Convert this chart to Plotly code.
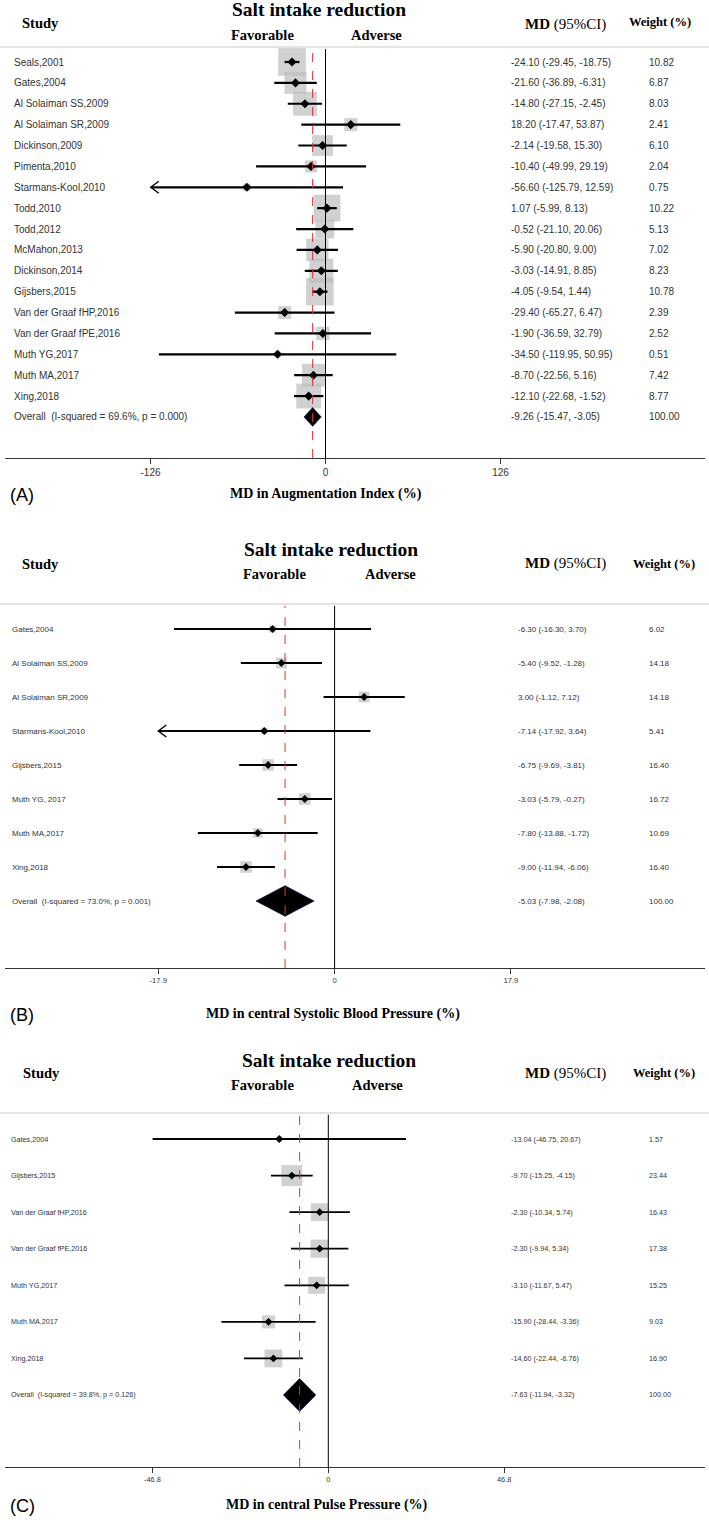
import numpy as np
import plotly.graph_objects as go

# ---------------- Data ----------------
# Panel A: Augmentation Index
a_studies = ["Seals,2001", "Gates,2004", "Al Solaiman SS,2009", "Al Solaiman SR,2009",
             "Dickinson,2009", "Pimenta,2010", "Starmans-Kool,2010", "Todd,2010",
             "Todd,2012", "McMahon,2013", "Dickinson,2014", "Gijsbers,2015",
             "Van der Graaf fHP,2016", "Van der Graaf fPE,2016", "Muth YG,2017",
             "Muth MA,2017", "Xing,2018"]
a_md = [-24.10, -21.60, -14.80, 18.20, -2.14, -10.40, -56.60, 1.07, -0.52, -5.90,
        -3.03, -4.05, -29.40, -1.90, -34.50, -8.70, -12.10]
a_lo = [-29.45, -36.89, -27.15, -17.47, -19.58, -49.99, -125.79, -5.99, -21.10,
        -20.80, -14.91, -9.54, -65.27, -36.59, -119.95, -22.56, -22.68]
a_hi = [-18.75, -6.31, -2.45, 53.87, 15.30, 29.19, 12.59, 8.13, 20.06, 9.00, 8.85,
        1.44, 6.47, 32.79, 50.95, 5.16, -1.52]
a_w = [10.82, 6.87, 8.03, 2.41, 6.10, 2.04, 0.75, 10.22, 5.13, 7.02, 8.23, 10.78,
       2.39, 2.52, 0.51, 7.42, 8.77]
a_overall = [-9.26, -15.47, -3.05]
a_overall_label = "Overall  (I-squared = 69.6%, p = 0.000)"
a_tick = 126
a_ticktext = ["-126", "0", "126"]
a_arrow = ["Starmans-Kool,2010"]
a_xtitle = "MD in Augmentation Index (%)"
a_tag = "(A)"

# Panel B: central Systolic Blood Pressure
b_studies = ["Gates,2004", "Al Solaiman SS,2009", "Al Solaiman SR,2009",
             "Starmans-Kool,2010", "Gijsbers,2015", "Muth YG, 2017", "Muth MA,2017",
             "Xing,2018"]
b_md = [-6.30, -5.40, 3.00, -7.14, -6.75, -3.03, -7.80, -9.00]
b_lo = [-16.30, -9.52, -1.12, -17.92, -9.69, -5.79, -13.88, -11.94]
b_hi = [3.70, -1.28, 7.12, 3.64, -3.81, -0.27, -1.72, -6.06]
b_w = [6.02, 14.18, 14.18, 5.41, 16.40, 16.72, 10.69, 16.40]
b_overall = [-5.03, -7.98, -2.08]
b_overall_label = "Overall  (I-squared = 73.0%, p = 0.001)"
b_tick = 17.9
b_ticktext = ["-17.9", "0", "17.9"]
b_arrow = ["Starmans-Kool,2010"]
b_xtitle = "MD in central Systolic Blood Pressure (%)"
b_tag = "(B)"

# Panel C: central Pulse Pressure
c_studies = ["Gates,2004", "Gijsbers,2015", "Van der Graaf fHP,2016",
             "Van der Graaf fPE,2016", "Muth YG,2017", "Muth MA,2017", "Xing,2018"]
c_md = [-13.04, -9.70, -2.30, -2.30, -3.10, -15.90, -14.60]
c_lo = [-46.75, -15.25, -10.34, -9.94, -11.67, -28.44, -22.44]
c_hi = [20.67, -4.15, 5.74, 5.34, 5.47, -3.36, -6.76]
c_w = [1.57, 23.44, 16.43, 17.38, 15.25, 9.03, 16.90]
c_overall = [-7.63, -11.94, -3.32]
c_overall_label = "Overall  (I-squared = 39.8%, p = 0.126)"
c_tick = 46.8
c_ticktext = ["-46.8", "0", "46.8"]
c_arrow = []
c_xtitle = "MD in central Pulse Pressure (%)"
c_tag = "(C)"

header_title = "Salt intake reduction"

# ---------------- Layout geometry (pixels) ----------------
W, H = 709, 1520
AX_L, AX_R = 5, 705


def px(x):
    return x / W


def py(y):
    return 1 - y / H


SANS = "Liberation Sans, Arial, sans-serif"
SERIF = "Liberation Serif, Times New Roman, serif"
TXT = "#333333"

panels = [
    dict(studies=a_studies, md=a_md, lo=a_lo, hi=a_hi, w=a_w, overall=a_overall,
         olabel=a_overall_label, tick=a_tick, ticktext=a_ticktext, arrow=a_arrow,
         xtitle=a_xtitle, tag=a_tag,
         zero=325.5, tickpx=175.0, top=47, bottom=458, row0=62, pitch=20.88,
         box_k=8.4, dot=7, lw=2.2, fs=10, tickfs=10, name_x=12, md_x=509, w_x=647,
         h_title=(319, 10), h_study=(20, 23), h_fav=(262, 35), h_adv=(377, 35),
         h_md=(523, 24), h_w=(627, 22), xtitle_y=494, xtitle_x=326),
    dict(studies=b_studies, md=b_md, lo=b_lo, hi=b_hi, w=b_w, overall=b_overall,
         olabel=b_overall_label, tick=b_tick, ticktext=b_ticktext, arrow=b_arrow,
         xtitle=b_xtitle, tag=b_tag,
         zero=334.6, tickpx=176.3, top=604, bottom=968, row0=629, pitch=34.0,
         box_k=2.85, dot=6, lw=2.0, fs=8, tickfs=7.7, name_x=10, md_x=516, w_x=647,
         h_title=(331, 549), h_study=(20, 564), h_fav=(274, 574), h_adv=(390, 574),
         h_md=(523, 564), h_w=(631, 564), xtitle_y=1014, xtitle_x=333),
    dict(studies=c_studies, md=c_md, lo=c_lo, hi=c_hi, w=c_w, overall=c_overall,
         olabel=c_overall_label, tick=c_tick, ticktext=c_ticktext, arrow=c_arrow,
         xtitle=c_xtitle, tag=c_tag,
         zero=328.3, tickpx=175.9, top=1113, bottom=1467, row0=1139, pitch=36.57,
         box_k=4.35, dot=6, lw=1.8, fs=7.2, tickfs=7.4, name_x=9, md_x=509, w_x=647,
         h_title=(329, 1060), h_study=(21, 1073), h_fav=(262, 1085), h_adv=(378, 1085),
         h_md=(523, 1073), h_w=(631, 1073), xtitle_y=1505, xtitle_x=327),
]

fig = go.Figure()
shapes = []
annotations = []
layout_axes = {}

for i, p in enumerate(panels):
    n = i + 1
    xa = "x" if n == 1 else f"x{n}"
    ya = "y" if n == 1 else f"y{n}"
    xkey = "xaxis" if n == 1 else f"xaxis{n}"
    ykey = "yaxis" if n == 1 else f"yaxis{n}"

    scale = p["tickpx"] / p["tick"]
    xr = [(AX_L - p["zero"]) / scale, (AX_R - p["zero"]) / scale]
    nst = len(p["studies"])
    orow = nst
    ytop = -(p["row0"] - p["top"]) / p["pitch"]
    ybot = (p["bottom"] - p["row0"]) / p["pitch"]

    layout_axes[xkey] = dict(
        domain=[px(AX_L), px(AX_R)], anchor=ya, range=xr,
        tickvals=[-p["tick"], 0, p["tick"]], ticktext=p["ticktext"],
        ticks="outside", ticklen=5, tickwidth=1, tickcolor="#333",
        showline=True, linecolor="#333", linewidth=1.2,
        showgrid=False, zeroline=False, fixedrange=True,
        tickfont=dict(family=SANS, size=p["tickfs"], color=TXT))
    layout_axes[ykey] = dict(
        domain=[py(p["bottom"]), py(p["top"])], anchor=xa, range=[ybot, ytop],
        visible=False, fixedrange=True)

    rows = list(range(nst))
    md = np.array(p["md"])
    lo = np.array(p["lo"])
    hi = np.array(p["hi"])
    w = np.array(p["w"])
    lo_draw = np.maximum(lo, -p["tick"])
    hi_draw = np.minimum(hi, p["tick"])

    # weight boxes
    fig.add_trace(go.Scatter(
        x=md, y=rows, xaxis=xa, yaxis=ya, mode="markers", hoverinfo="skip",
        marker=dict(symbol="square", size=p["box_k"] * np.sqrt(w),
                    color="#bdbdbd", line=dict(width=0)), showlegend=False))

    # CI lines
    cx, cy = [], []
    for r, l, h in zip(rows, lo_draw, hi_draw):
        cx += [l, h, None]
        cy += [r, r, None]
    fig.add_trace(go.Scatter(
        x=cx, y=cy, xaxis=xa, yaxis=ya, mode="lines", hoverinfo="skip",
        line=dict(color="black", width=p["lw"]), showlegend=False))

    # point estimates
    fig.add_trace(go.Scatter(
        x=md, y=rows, xaxis=xa, yaxis=ya, mode="markers", hoverinfo="skip",
        marker=dict(symbol="diamond", size=p["dot"], color="black",
                    line=dict(width=0)), showlegend=False))

    # overall diamond
    om, ol, oh = p["overall"]
    dh = 0.45
    fig.add_trace(go.Scatter(
        x=[ol, om, oh, om, ol], y=[orow, orow - dh, orow, orow + dh, orow],
        xaxis=xa, yaxis=ya, mode="lines", fill="toself", fillcolor="black",
        line=dict(color="#000050", width=0.6), hoverinfo="skip", showlegend=False))

    # clipped-CI arrows
    for name, l in zip(p["studies"], lo_draw):
        if name in p["arrow"]:
            r = p["studies"].index(name)
            shapes.append(dict(
                type="path", xref=xa, yref=ya, xsizemode="pixel", ysizemode="pixel",
                xanchor=l, yanchor=r, path="M 8,6 L 0,0 L 8,-6",
                line=dict(color="black", width=1.4)))

    # reference lines
    shapes.append(dict(type="line", xref=xa, yref=f"{ya} domain", x0=0, x1=0,
                       y0=0, y1=0.995, line=dict(color="black", width=1)))
    shapes.append(dict(type="line", xref=xa, yref=f"{ya} domain", x0=om, x1=om,
                       y0=0, y1=0.995, line=dict(color="#e0303a", width=1, dash="dash")))
    # header separator
    shapes.append(dict(type="line", xref="paper", yref="paper", x0=0, x1=1,
                       y0=py(p["top"]), y1=py(p["top"]),
                       line=dict(color="#e4e4e4", width=2)))

    # row texts
    labels = p["studies"] + [p["olabel"]]
    mdtxt = [f"{m:.2f} ({l:.2f}, {h:.2f})" for m, l, h in zip(p["md"], p["lo"], p["hi"])]
    mdtxt.append(f"{om:.2f} ({ol:.2f}, {oh:.2f})")
    wtxt = [f"{v:.2f}" for v in p["w"]] + [f"{100:.2f}"]
    for r in range(nst + 1):
        for xpos, t in ((p["name_x"], labels[r]), (p["md_x"], mdtxt[r]), (p["w_x"], wtxt[r])):
            annotations.append(dict(
                text=t, x=px(xpos), xref="paper", y=r, yref=ya, xanchor="left",
                yanchor="middle", showarrow=False,
                font=dict(family=SANS, size=p["fs"], color=TXT)))

    # headers
    def hdr(text, pos, size, anchor="center", bold=True):
        annotations.append(dict(
            text=f"<b>{text}</b>" if bold else text, x=px(pos[0]), y=py(pos[1]),
            xref="paper", yref="paper", xanchor=anchor, yanchor="middle",
            showarrow=False, font=dict(family=SERIF, size=size, color="black")))

    hdr(header_title, p["h_title"], 19.5)
    hdr("Study", p["h_study"], 14.5, anchor="left")
    hdr("Favorable", p["h_fav"], 14.5)
    hdr("Adverse", p["h_adv"], 14.5)
    hdr("<b>MD</b> (95%CI)", p["h_md"], 15, anchor="left", bold=False)
    hdr("Weight (%)", p["h_w"], 12.5, anchor="left")

    # x-axis title and panel tag
    annotations.append(dict(
        text=f"<b>{p['xtitle']}</b>", x=px(p["xtitle_x"]), y=py(p["xtitle_y"]),
        xref="paper", yref="paper", xanchor="center", yanchor="middle",
        showarrow=False, font=dict(family=SERIF, size=14, color="black")))
    annotations.append(dict(
        text=p["tag"], x=px(8), y=py(p["xtitle_y"] + 1), xref="paper", yref="paper",
        xanchor="left", yanchor="middle", showarrow=False,
        font=dict(family=SANS, size=18, color="black")))

fig.update_layout(
    width=W, height=H, margin=dict(l=0, r=0, t=0, b=0),
    paper_bgcolor="white", plot_bgcolor="white",
    showlegend=False, hovermode=False,
    shapes=shapes, annotations=annotations, **layout_axes)

fig.write_html("out.html", post_script="document.body.style.margin='0';",
               config={"displayModeBar": False})
